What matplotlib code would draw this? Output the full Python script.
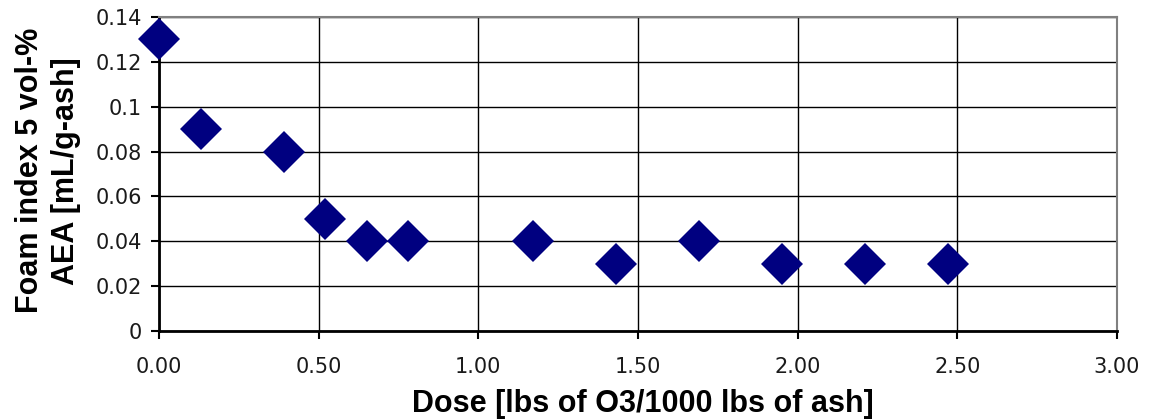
import matplotlib
matplotlib.use("Agg")
import matplotlib.pyplot as plt
import numpy as np

dose = [0.00, 0.13, 0.39, 0.52, 0.65, 0.78, 1.17, 1.43, 1.69, 1.95, 2.21, 2.47]
foam_index = [0.13, 0.09, 0.08, 0.05, 0.04, 0.04, 0.04, 0.03, 0.04, 0.03, 0.03, 0.03]
x_ticks = [0.0, 0.5, 1.0, 1.5, 2.0, 2.5, 3.0]
x_tick_labels = ["0.00", "0.50", "1.00", "1.50", "2.00", "2.50", "3.00"]
y_ticks = [0, 0.02, 0.04, 0.06, 0.08, 0.1, 0.12, 0.14]
y_tick_labels = ["0", "0.02", "0.04", "0.06", "0.08", "0.1", "0.12", "0.14"]

fig = plt.figure(figsize=(11.49, 4.2), dpi=100)
ax = fig.add_axes([0.1384, 0.2119, 0.9722 - 0.1384, 0.9595 - 0.2119])

ax.plot(dose, foam_index, linestyle="none", marker="D", markersize=21.5,
        color="#000080", markeredgewidth=0, zorder=3, clip_on=False)

ax.set_xlim(0, 3.0)
ax.set_ylim(0, 0.14)
ax.set_xticks(x_ticks)
ax.set_xticklabels(x_tick_labels)
ax.set_yticks(y_ticks)
ax.set_yticklabels(y_tick_labels)

ax.grid(True, color="black", linewidth=1.0, zorder=0)
ax.set_axisbelow(True)

for s in ["left", "bottom"]:
    ax.spines[s].set_color("black")
    ax.spines[s].set_linewidth(2.0)
for s in ["top", "right"]:
    ax.spines[s].set_color("#808080")
    ax.spines[s].set_linewidth(1.5)

ax.tick_params(axis="both", direction="out", length=5.5, width=1.5, color="black",
               labelsize=15, labelcolor="#1a1a1a")
ax.tick_params(axis="x", pad=13)
ax.tick_params(axis="y", pad=7)

for lab in ax.get_xticklabels() + ax.get_yticklabels():
    lab.set_family("DejaVu Sans")

ax.set_xlabel("Dose [lbs of O3/1000 lbs of ash]", fontsize=22, fontweight="bold",
              family="Liberation Sans")
ax.xaxis.set_label_coords(0.505, -0.185)
ax.set_ylabel("Foam index 5 vol-%\nAEA [mL/g-ash]", fontsize=22, fontweight="bold",
              family="Liberation Sans", linespacing=1.3)
ax.yaxis.set_label_coords(-0.081, 0.51)

fig.savefig("out.png", dpi=100)
